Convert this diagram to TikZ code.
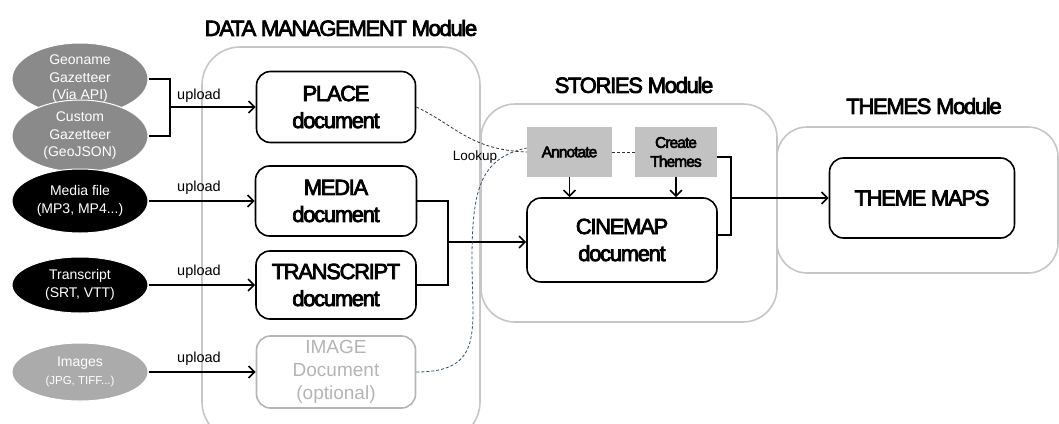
\documentclass[tikz,border=0pt]{standalone}
\usepackage{fontspec}
\setmainfont{Liberation Sans}
\newfontfamily\tightfont[LetterSpace=-6,FakeBold=3.5]{Liberation Sans}
\usetikzlibrary{arrows.meta,shapes.geometric}
\definecolor{frame}{HTML}{C6C6C6}
\definecolor{gazgray}{HTML}{8A8A8A}
\definecolor{imggray}{HTML}{ABABAB}
\definecolor{actgray}{HTML}{C2C2C2}
\definecolor{optgray}{HTML}{B4B4B4}
\definecolor{teal}{HTML}{34506A}
\tikzset{
  module/.style={draw=frame,line width=1.6pt,rounded corners=38pt},
  modtitle/.style={font=\tightfont\fontsize{22}{24}\selectfont},
  source/.style={ellipse,minimum width=136pt,align=center,text=white,
    draw=white,line width=1pt,font=\fontsize{14}{17.5}\selectfont,inner sep=0pt},
  doc/.style={draw,line width=1.6pt,rounded corners=14pt,align=center,
    font=\tightfont\fontsize{22}{27}\selectfont,inner sep=0pt},
  action/.style={fill=actgray,align=center,inner sep=0pt,
    font=\tightfont\fontsize{15.5}{19}\selectfont},
  flow/.style={line width=1.6pt,-{Straight Barb[length=6pt,width=12pt,line width=1.6pt]}},
  link/.style={line width=1.6pt},
  lbl/.style={font=\fontsize{14.5}{16}\selectfont,inner sep=0pt},
  lookup/.style={line width=0.8pt,dash pattern=on 3pt off 2pt},
}
\begin{document}
\begin{tikzpicture}[x=1pt,y=-1pt]
\useasboundingbox (0,0) rectangle (1059,423);
\begin{scope}
\clip (0,0) rectangle (1059,423);
% module frames
\draw[module] (202,47) rectangle (480,440);
\draw[module,rounded corners=34pt] (481,104) rectangle (777,322);
\draw[module,rounded corners=30pt] (777,127) rectangle (1058,273);
\end{scope}
\node[modtitle] (tdata) at (341,28) {DATA MANAGEMENT Module};
\node[modtitle] (tstory) at (634,85) {STORIES Module};
\node[modtitle] (ttheme) at (924,106) {THEMES Module};

% sources
\node[source,fill=gazgray,minimum height=72pt] (geo) at (80,79) {Geoname\\Gazetteer\\(Via API)};
\node[source,fill=gazgray,minimum height=72pt] (cust) at (80,136) {Custom\\Gazetteer\\(GeoJSON)};
\node[source,fill=black,minimum height=64pt] (media) at (80,201) {Media file\\(MP3, MP4...)};
\node[source,fill=black,minimum height=56pt] (trans) at (80,285) {Transcript\\(SRT, VTT)};
\node[source,fill=imggray,minimum height=58pt] (imgs) at (80,372)
  {Images\\{\fontsize{11.5}{13}\selectfont (JPG, TIFF...)}};

% documents
\node[doc,minimum width=159pt,minimum height=71pt] (place) at (336,107) {PLACE\\document};
\node[doc,minimum width=161pt,minimum height=70pt] (mediadoc) at (336,201) {MEDIA\\document};
\node[doc,minimum width=160pt,minimum height=68pt] (transdoc) at (336,285) {TRANSCRIPT\\document};
\node[doc,draw=optgray,text=optgray,minimum width=159pt,minimum height=72pt,
  font=\fontsize{19}{23}\selectfont] (imgdoc) at (336,372) {IMAGE\\Document\\(optional)};

% stories
\node[action,minimum width=85pt,minimum height=50pt] (annot) at (569.5,152) {Annotate};
\node[action,minimum width=82pt,minimum height=50pt] (create) at (676,152) {Create\\Themes};
\node[doc,minimum width=190pt,minimum height=84pt] (cinemap) at (622,240) {CINEMAP\\document};

% themes
\node[doc,minimum width=185pt,minimum height=80pt] (maps) at (922,198) {THEME MAPS};

% uploads
\coordinate (gj) at (170,107);
\draw[link] (geo.east) -| (gj) |- (cust.east);
\draw[flow] (gj) -- (place.west);
\node[lbl,anchor=south] (up1) at (199,103) {upload};
\draw[flow] (media.east) -- (mediadoc.west);
\node[lbl,anchor=south] (up2) at (199,195) {upload};
\draw[flow] (trans.east) -- (transdoc.west);
\node[lbl,anchor=south] (up3) at (199,279) {upload};
\draw[flow] (imgs.east) -- (imgdoc.west);
\node[lbl,anchor=south] (up4) at (199,366) {upload};

% documents into the cinemap
\coordinate (dj) at (448,242);
\draw[link] (mediadoc.east) -| (dj) |- (transdoc.east);
\draw[flow] (dj) -- (cinemap.west |- dj);

% lookups
\draw[lookup,black!80]
  (place.east) .. controls (455,125) and (470,150) .. (annot.west);
\node[lbl,font=\fontsize{13.5}{15}\selectfont] (look) at (475,157) {Lookup};
\draw[lookup,teal]
  (imgdoc.east) .. controls (485,372) and (472,330) .. (472,260)
  .. controls (472,190) and (480,158) .. ([yshift=4pt]annot.west);
\draw[lookup,black!80] (annot.east) -- (create.west);

% actions onto the cinemap
\draw[flow] (annot.south) -- (annot.south |- cinemap.north);
\draw[flow] (create.south) -- (create.south |- cinemap.north);

% out to the theme maps
\coordinate (tj) at (731,198);
\draw[link] ([yshift=-5pt]create.east) -| (tj) |- ([yshift=5pt]cinemap.east);
\draw[flow] (tj) -- (maps.west);
\end{tikzpicture}
\end{document}
